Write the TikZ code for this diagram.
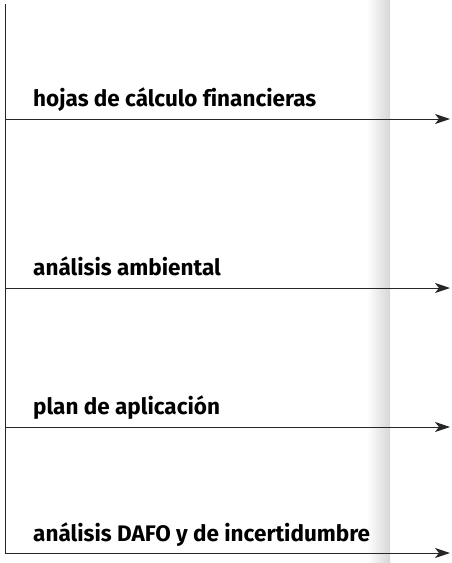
\documentclass[tikz,border=0pt]{standalone}
\usepackage{fontspec}
\setmainfont[Ligatures=NoCommon]{Fira Sans}
\usetikzlibrary{arrows.meta}
\begin{document}
\begin{tikzpicture}[x=1pt,y=-1pt,
  lbl/.style={anchor=base west,inner sep=0pt,font=\fontsize{22.5}{25}\selectfont\bfseries,text=black},
  flow/.style={draw=black!85,line width=0.9pt,-{Stealth[length=15pt,width=10pt,inset=4pt]}}]
\useasboundingbox (0,0) rectangle (451,563);
\shade[left color=white,right color=black!16] (367,0) rectangle (390,563);
\coordinate (top) at (5,4);
\coordinate (c1) at (5,119);
\coordinate (c2) at (5,288);
\coordinate (c3) at (5,427);
\coordinate (c4) at (5,553);
\coordinate (e1) at (450,119);
\coordinate (e2) at (450,288);
\coordinate (e3) at (450,427);
\coordinate (e4) at (450,553);
\draw[draw=black!85,line width=0.9pt] (top) -- (c4);
\draw[flow] (c1) -- (e1);
\draw[flow] (c2) -- (e2);
\draw[flow] (c3) -- (e3);
\draw[flow] (c4) -- (e4);
\node[lbl] (t1) at (33,106) {hojas de cálculo financieras};
\node[lbl] (t2) at (33,275) {análisis ambiental};
\node[lbl] (t3) at (33,414) {plan de aplicación};
\node[lbl] (t4) at (33,541) {análisis DAFO y de incertidumbre};
\end{tikzpicture}
\end{document}
